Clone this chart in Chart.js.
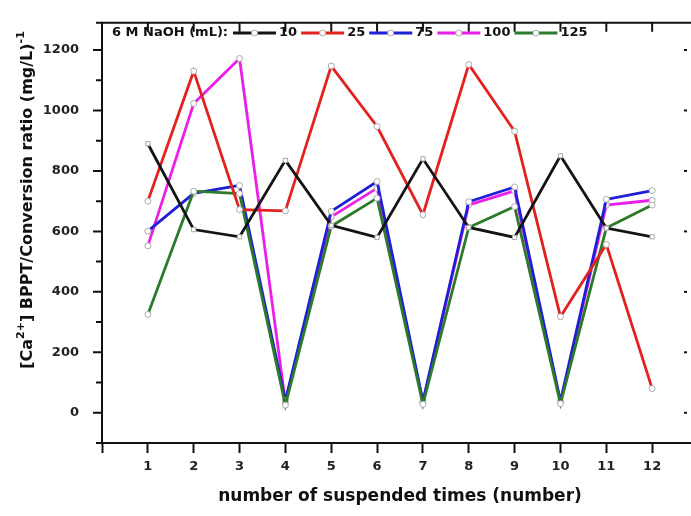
<!DOCTYPE html>
<html>
<head>
<meta charset="utf-8">
<script src="https://cdn.jsdelivr.net/npm/chart.js@4.4.1/dist/chart.umd.min.js"></script>
<style>
html, body { margin: 0; padding: 0; background: #fff; overflow: hidden; }
#wrap { width: 706px; height: 516px; }
</style>
</head>
<body>
<div id="wrap"><canvas id="myChart" width="706" height="516"></canvas></div>
<script>
// suspension runs on the x axis
var runs = [1, 2, 3, 4, 5, 6, 7, 8, 9, 10, 11, 12];

// [Ca2+] BPPT / conversion ratio for each NaOH volume (mL)
var naoh10  = [890, 606, 582, 835, 620, 580, 840, 613, 580, 850, 611, 582];
var naoh25  = [700, 1130, 672, 668, 1147, 947, 655, 1152, 931, 318, 557, 80];
var naoh75  = [601, 726, 752, 40, 666, 765, 38, 698, 747, 38, 706, 735];
var naoh100 = [552, 1023, 1172, 35, 648, 743, 35, 688, 734, 35, 687, 703];
var naoh125 = [325, 733, 725, 25, 617, 710, 28, 613, 682, 30, 611, 687];

var seriesNames = ['10', '25', '75', '100', '125'];
var yMajor = [0, 200, 400, 600, 800, 1000, 1200];
var yMinor = [-100, 100, 300, 500, 700, 900, 1100];

var FONT = "'DejaVu Sans', 'Liberation Sans', Arial, sans-serif";
Chart.defaults.font.family = FONT;
Chart.defaults.font.size = 13;
Chart.defaults.font.weight = 'bold';
Chart.defaults.color = '#222';

function pts(vals) {
    return vals.map(function(v, i) { return { x: runs[i], y: v }; });
}

function line(label, vals, color, order, style) {
    return {
        label: label,
        data: pts(vals),
        borderColor: color,
        backgroundColor: color,
        borderWidth: 2.8,
        pointRadius: 3,
        pointStyle: style || 'circle',
        pointBorderWidth: 1,
        pointBorderColor: '#aaa',
        pointBackgroundColor: '#fff',
        tension: 0,
        order: order
    };
}

var colors = ['#141414', '#e3211f', '#1f1fd6', '#ea1fea', '#2b7b2b'];

// frame bits, legend and axis titles
var decor = {
    id: 'decor',
    afterDraw: function(chart) {
        var ctx = chart.ctx;
        var area = chart.chartArea;
        var xs = chart.scales.x, ys = chart.scales.y;
        ctx.save();
        ctx.strokeStyle = '#111';
        ctx.fillStyle = '#111';
        ctx.lineWidth = 2;

        // top frame with inward ticks
        ctx.beginPath();
        ctx.moveTo(area.left - 1, area.top);
        ctx.lineTo(chart.width, area.top);
        for (var i = 1; i <= 13; i++) {
            var px = xs.getPixelForValue(i);
            ctx.moveTo(px, area.top);
            ctx.lineTo(px, area.top + 9);
        }
        ctx.stroke();

        // left axis ticks, long on majors
        ctx.beginPath();
        yMajor.forEach(function(v) {
            var py = ys.getPixelForValue(v);
            ctx.moveTo(area.left, py);
            ctx.lineTo(area.left - 9, py);
        });
        yMinor.forEach(function(v) {
            var py = ys.getPixelForValue(v);
            ctx.moveTo(area.left, py);
            ctx.lineTo(area.left - 6, py);
        });
        ctx.moveTo(area.left, area.top);
        ctx.lineTo(area.left - 6, area.top);
        ctx.stroke();

        // tick marks of the neighbouring axis on the right
        yMajor.forEach(function(v) {
            var py = ys.getPixelForValue(v);
            ctx.fillRect(684, py - 1, 3, 2);
        });

        // legend inside the plot
        var ly = 33;
        var lx = 112;
        ctx.font = 'bold 13px ' + FONT;
        ctx.textBaseline = 'middle';
        ctx.textAlign = 'left';
        ctx.fillStyle = '#111';
        var head = '6 M NaOH (mL):';
        ctx.fillText(head, lx, ly);
        lx += ctx.measureText(head).width + 5;
        chart.data.datasets.forEach(function(ds) {
            ctx.strokeStyle = ds.borderColor;
            ctx.lineWidth = 2.8;
            ctx.beginPath();
            ctx.moveTo(lx, ly);
            ctx.lineTo(lx + 43, ly);
            ctx.stroke();
            ctx.beginPath();
            ctx.arc(lx + 21.5, ly, 3, 0, Math.PI * 2);
            ctx.fillStyle = '#fff';
            ctx.fill();
            ctx.lineWidth = 1;
            ctx.strokeStyle = '#aaa';
            ctx.stroke();
            lx += 46;
            ctx.fillStyle = '#111';
            ctx.fillText(ds.label, lx, ly);
            lx += ctx.measureText(ds.label).width + 4;
        });

        // x title
        ctx.font = 'bold 17px ' + FONT;
        ctx.textAlign = 'center';
        ctx.fillText('number of suspended times (number)', (area.left + area.right) / 2, 497);

        // y title with superscripts
        var parts = [
            { t: '[Ca', sup: false },
            { t: '2+', sup: true },
            { t: '] BPPT/Conversion ratio (mg/L)', sup: false },
            { t: '-1', sup: true }
        ];
        var big = 'bold 16px ' + FONT, small = 'bold 11px ' + FONT;
        var total = 0;
        parts.forEach(function(p) {
            ctx.font = p.sup ? small : big;
            p.w = ctx.measureText(p.t).width;
            total += p.w;
        });
        ctx.translate(28, 200);
        ctx.rotate(-Math.PI / 2);
        ctx.textAlign = 'left';
        var cx = -total / 2;
        parts.forEach(function(p) {
            ctx.font = p.sup ? small : big;
            ctx.fillText(p.t, cx, p.sup ? -7 : 0);
            cx += p.w;
        });
        ctx.restore();
    }
};

var config = {
    type: 'line',
    data: {
        datasets: [
            line(seriesNames[0], naoh10, colors[0], 1, 'rect'),
            line(seriesNames[1], naoh25, colors[1], 2),
            line(seriesNames[2], naoh75, colors[2], 4),
            line(seriesNames[3], naoh100, colors[3], 5),
            line(seriesNames[4], naoh125, colors[4], 3)
        ]
    },
    options: {
        responsive: false,
        animation: false,
        devicePixelRatio: 1,
        layout: { padding: { top: 14, right: 8, left: 0, bottom: 0 } },
        plugins: {
            legend: { display: false },
            tooltip: { enabled: false }
        },
        scales: {
            x: {
                type: 'linear',
                min: 0,
                max: 13,
                grid: {
                    display: true,
                    drawOnChartArea: false,
                    tickLength: 10,
                    tickWidth: 2,
                    color: '#111'
                },
                border: { display: true, width: 2, color: '#111' },
                ticks: {
                    stepSize: 1,
                    padding: 6,
                    color: '#222',
                    font: { size: 13, weight: 'bold' },
                    callback: function(v) {
                        return (v >= 1 && v <= 12) ? String(v) : '';
                    }
                },
                afterFit: function(scale) { scale.height = 73; }
            },
            y: {
                type: 'linear',
                min: -100,
                max: 1290,
                grid: { display: false },
                border: { display: true, width: 2, color: '#111' },
                afterBuildTicks: function(scale) {
                    scale.ticks = yMajor.map(function(v) { return { value: v }; });
                },
                ticks: {
                    padding: 15,
                    color: '#222',
                    font: { size: 13, weight: 'bold' },
                    callback: function(v) { return String(v); }
                },
                afterFit: function(scale) { scale.width = 102; }
            }
        }
    },
    plugins: [decor]
};

window.addEventListener('DOMContentLoaded', function() {
    var ctx = document.getElementById('myChart').getContext('2d');
    window.myLine = new Chart(ctx, config);
});
</script>
</body>
</html>
